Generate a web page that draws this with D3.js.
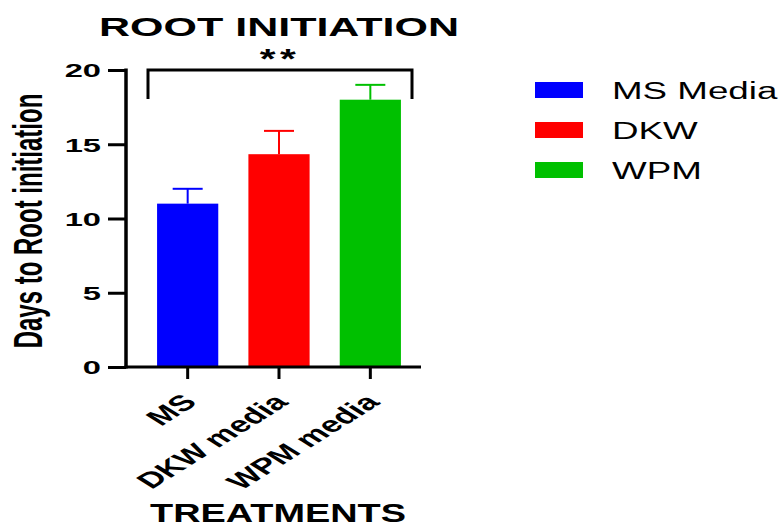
<!DOCTYPE html>
<html>
<head>
<meta charset="utf-8">
<script src="https://cdn.jsdelivr.net/npm/d3@7/dist/d3.min.js"></script>
<style>
  html, body { margin: 0; padding: 0; background: #fff; }
  svg { display: block; }
</style>
</head>
<body>
<svg id="chart" width="784" height="524"></svg>
<script>
// Days to root initiation per medium (mean and error)
const categories = ["MS", "DKW media", "WPM media"];
const legendNames = ["MS Media", "DKW", "WPM"];
const meanDays = [11, 14.33, 18];
const errDays = [1, 1.57, 1];
const barColors = ["#0000ff", "#ff0000", "#00c000"];
const yTicks = [0, 5, 10, 15, 20];
const significance = "**";

const svg = d3.select("#chart");
const font = "'Liberation Sans', Arial, sans-serif";
const wide = 1.6; // horizontal widening of lettering

const x = d3.scaleBand().domain(categories).range([142, 416]).paddingInner(0.33).paddingOuter(0.165);
const y = d3.scaleLinear().domain([0, 20]).range([367, 70]);

// bars
svg.selectAll("rect.bar").data(categories).enter().append("rect")
  .attr("class", "bar")
  .attr("x", d => x(d))
  .attr("width", x.bandwidth())
  .attr("y", (d, i) => y(meanDays[i]))
  .attr("height", (d, i) => y(0) - y(meanDays[i]))
  .attr("fill", (d, i) => barColors[i]);

// error bars (upper only)
const eb = svg.selectAll("g.err").data(categories).enter().append("g").attr("class", "err");
eb.append("line")
  .attr("x1", d => x(d) + x.bandwidth() / 2).attr("x2", d => x(d) + x.bandwidth() / 2)
  .attr("y1", (d, i) => y(meanDays[i])).attr("y2", (d, i) => y(meanDays[i] + errDays[i]))
  .attr("stroke", (d, i) => barColors[i]).attr("stroke-width", 2);
eb.append("line")
  .attr("x1", d => x(d) + x.bandwidth() / 2 - 15).attr("x2", d => x(d) + x.bandwidth() / 2 + 15)
  .attr("y1", (d, i) => y(meanDays[i] + errDays[i])).attr("y2", (d, i) => y(meanDays[i] + errDays[i]))
  .attr("stroke", (d, i) => barColors[i]).attr("stroke-width", 2);

// y axis
const yAxis = svg.append("g").attr("transform", "translate(126,0)")
  .call(d3.axisLeft(y).tickValues(yTicks).tickSize(18).tickPadding(6));
yAxis.select(".domain").attr("stroke", "#000").attr("stroke-width", 3.5)
  .attr("d", `M0,${y(20) - 1.5}V${y(0) + 1.5}`);
yAxis.selectAll(".tick line").attr("stroke", "#000").attr("stroke-width", 3);
yAxis.selectAll(".tick text").attr("font-family", font).attr("font-weight", "bold")
  .attr("font-size", 19).attr("fill", "#000")
  .attr("x", 0).attr("dy", "0.36em")
  .attr("transform", "translate(-25,0) scale(1.72,1)");

// x axis
const xAxis = svg.append("g").attr("transform", `translate(0,${y(0)})`)
  .call(d3.axisBottom(x).tickSize(12).tickPadding(4));
xAxis.select(".domain").attr("stroke", "#000").attr("stroke-width", 3)
  .attr("d", "M124.5,0H421");
xAxis.selectAll(".tick line").attr("stroke", "#000").attr("stroke-width", 3);
xAxis.selectAll(".tick text").attr("font-family", font).attr("font-weight", "bold")
  .attr("font-size", 22).attr("fill", "#000")
  .attr("text-anchor", "end").attr("x", 0).attr("y", 0).attr("dy", "0.35em")
  .attr("transform", `translate(2,31) scale(${wide},1) rotate(-45)`);

// significance bracket spanning all groups
const bx0 = 148, bx1 = 412;
svg.append("path")
  .attr("d", `M${bx0},${y(18.05)}V${y(20)}H${bx1}V${y(18.05)}`)
  .attr("fill", "none").attr("stroke", "#000").attr("stroke-width", 3);
svg.append("text")
  .attr("transform", `translate(${(bx0 + bx1) / 2},68) scale(1.45,1)`)
  .attr("text-anchor", "middle").attr("font-family", font).attr("font-weight", "bold")
  .attr("font-size", 28).attr("letter-spacing", 3)
  .text(significance);

// title
svg.append("text").attr("x", 279).attr("y", 36).attr("text-anchor", "middle")
  .attr("font-family", font).attr("font-weight", "bold").attr("font-size", 26)
  .attr("textLength", 360).attr("lengthAdjust", "spacingAndGlyphs")
  .text("ROOT INITIATION");

// axis titles
svg.append("text").attr("x", 278).attr("y", 522).attr("text-anchor", "middle")
  .attr("font-family", font).attr("font-weight", "bold").attr("font-size", 25)
  .attr("textLength", 256).attr("lengthAdjust", "spacingAndGlyphs")
  .text("TREATMENTS");
svg.append("text").attr("transform", "translate(42,221) scale(1.7,1) rotate(-90)")
  .attr("text-anchor", "middle")
  .attr("font-family", font)
  .attr("font-weight", "bold").attr("font-size", 24)
  .text("Days to Root initiation");

// legend
const lg = svg.selectAll("g.legend").data(legendNames).enter().append("g")
  .attr("class", "legend")
  .attr("transform", (d, i) => `translate(535,${82 + i * 40})`);
lg.append("rect").attr("width", 48).attr("height", 16).attr("fill", (d, i) => barColors[i]);
lg.append("text")
  .attr("transform", "translate(77,16.5) scale(1.5,1)")
  .attr("font-family", font).attr("font-size", 24.5).attr("fill", "#000")
  .text(d => d);
</script>
</body>
</html>
